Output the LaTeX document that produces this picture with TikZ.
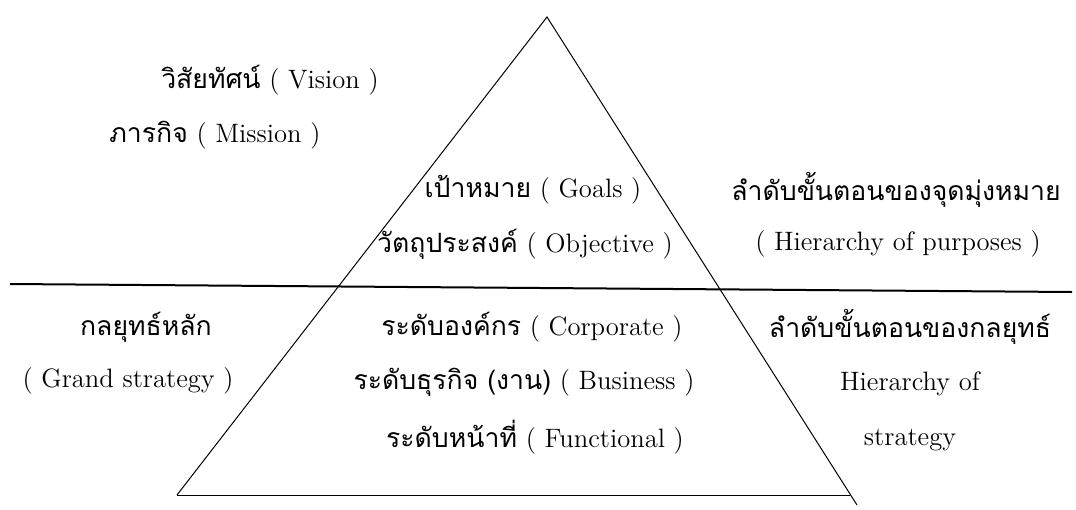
\documentclass[tikz,border=0pt]{standalone}
\usepackage{fontspec}
\newfontfamily\thai[Script=Thai]{Loma}
\begin{document}
\begin{tikzpicture}[x=0.5pt,y=-0.5pt,
  lbl/.style={inner sep=0pt,anchor=center,font=\fontsize{13.3}{15}\selectfont},
  edge/.style={draw=black,line width=0.5pt},
  divider/.style={draw=black,line width=1pt}]
\useasboundingbox (0,0) rectangle (1076,509);
% triangle corners
\coordinate (apex) at (547,17);
\coordinate (bl) at (177,495);
\coordinate (br) at (857,505);
\coordinate (bbr) at (850,495);
\coordinate (hl) at (10,284);
\coordinate (hr) at (1072,292);
\draw[edge] (bl) -- (apex) -- (br);
\draw[edge] (bl) -- (bbr);
\draw[divider] (hl) -- (hr);
% labels
\node[lbl] (vision) at (270,80) {{\thai วิสัยทัศน์} ( Vision )};
\node[lbl] (mission) at (215,135) {{\thai ภารกิจ} ( Mission )};
\node[lbl] (goals) at (533,190) {{\thai เป้าหมาย} ( Goals )};
\node[lbl] (obj) at (525,244) {{\thai วัตถุประสงค์} ( Objective )};
\node[lbl] (hp1) at (896,190) {{\thai ลำดับขั้นตอนของจุดมุ่งหมาย}};
\node[lbl] (hp2) at (898,244) {( Hierarchy of purposes )};
\node[lbl] (gs1) at (146,327) {{\thai กลยุทธ์หลัก}};
\node[lbl] (gs2) at (128,381) {( Grand strategy )};
\node[lbl] (corp) at (532,327) {{\thai ระดับองค์กร} ( Corporate )};
\node[lbl] (bus) at (524,382) {{\thai ระดับธุรกิจ (งาน)} ( Business )};
\node[lbl] (func) at (535,437) {{\thai ระดับหน้าที่} ( Functional )};
\node[lbl] (hs1) at (910,327) {{\thai ลำดับขั้นตอนของกลยุทธ์}};
\node[lbl] (hs2) at (910,384) {Hierarchy of};
\node[lbl] (hs3) at (910,440) {strategy};
\end{tikzpicture}
\end{document}
